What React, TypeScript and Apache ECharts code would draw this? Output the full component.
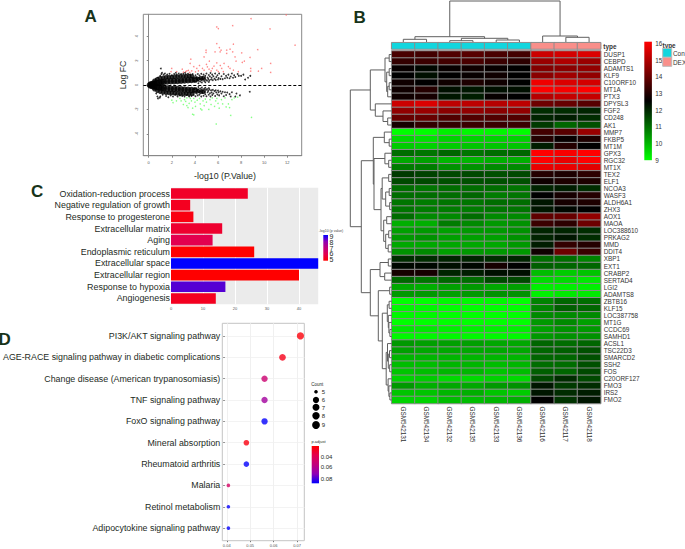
import React, { useEffect, useRef } from "react";
import * as echarts from "echarts";

const FONT = "Liberation Sans";
const INK = "#1d2b1d";

// Panel A: volcano plot: [-log10 P, log FC]
const volcanoUp = [[11.9,5.75],[8.86,5.44],[5.89,4.76],[6.03,4.63],[7.27,4.87],[10.5,4.6],[12.67,3.27],[5.89,3.4],[7.33,3.35],[4.96,2.86],[4.96,2.67],[6.12,3.07],[6.26,2.86],[5.74,2.72],[6.18,2.72],[6.75,2.86],[7.04,2.94],[6.75,2.6],[7.27,2.72],[8.05,2.64],[9.44,2.9],[3.64,2.12],[3.58,1.77],[4.79,2.3],[5.25,1.96],[5.89,1.82],[6.52,1.77],[7.47,2.3],[7.56,1.96],[8.1,1.85],[8.28,1.96],[8.77,2.26],[10.56,1.77],[8.83,1.36],[9.78,1.36],[9.5,1.14],[10.56,1.03],[8.83,1.14],[1.99,1.36],[1.93,1.09],[2.42,1.09],[3.2,1.09],[3.3,1.16],[3.43,1.2],[3.72,1.16],[4.16,1.36],[4.3,1.16],[4.65,1.36],[4.79,1.22],[5.08,1.49],[5.22,1.3],[5.51,1.36],[5.65,1.55],[5.89,1.22],[6.03,1.09],[6.32,1.36],[6.46,1.09],[7.04,1.36],[7.33,1.22],[7.76,1.09],[3.9,1.5],[4.4,1.6],[5.0,1.7],[5.4,1.15],[6.2,1.6],[6.9,1.5],[2.9,1.3],[3.0,1.05],[3.55,1.03],[4.05,1.08]];
const volcanoDown = [[5.85,-3.2],[8.9,-2.65],[7.1,-2.5],[3.9,-2.45],[3.8,-2.4],[2.1,-1.45],[2.0,-1.25],[2.4,-1.3],[2.7,-1.1],[2.8,-1.3],[3.0,-1.6],[3.1,-1.2],[3.2,-1.35],[3.3,-1.05],[3.4,-1.85],[3.5,-1.5],[3.6,-1.1],[3.7,-1.3],[3.8,-1.9],[3.9,-1.1],[4.0,-1.4],[4.05,-1.75],[4.2,-1.25],[4.4,-1.1],[4.45,-1.55],[4.5,-1.95],[4.7,-1.3],[4.8,-1.7],[4.9,-1.15],[5.0,-1.4],[5.2,-2.0],[5.3,-1.2],[5.4,-1.6],[5.5,-1.05],[5.7,-1.75],[5.8,-1.3],[5.9,-1.1],[6.0,-1.5],[6.1,-1.9],[6.3,-1.2],[6.4,-1.55],[6.6,-1.05],[6.7,-1.8],[6.9,-1.55],[7.0,-1.85],[7.2,-1.2],[7.4,-1.05],[7.7,-1.0],[3.3,-1.7],[4.6,-2.05]];
const volcanoCore = [[0.1,0],[0.2,0.05],[0.2,-0.05],[0.35,0.1],[0.35,-0.1],[0.5,0.13],[0.5,-0.13],[0.7,0.17],[0.7,-0.17],[0.9,0.2],[0.9,-0.2],[1.1,0.23],[1.1,-0.23],[1.3,0.26],[1.3,-0.26],[1.6,0.3],[1.6,-0.3],[1.9,0.31],[1.9,-0.31],[2.2,0.32],[2.2,-0.32],[2.5,0.33],[2.5,-0.33],[2.8,0.35],[2.8,-0.35],[3.1,0.37],[3.1,-0.37],[3.4,0.39],[3.4,-0.39],[3.7,0.41],[3.7,-0.41],[4.0,0.44],[4.0,-0.44]];
const volcanoMid = [[0.5,0.35],[0.5,-0.35],[0.75,0.48],[0.75,-0.48],[1.0,0.55],[1.0,-0.55],[1.25,0.6],[1.25,-0.6],[1.5,0.63],[1.5,-0.63],[1.75,0.65],[1.75,-0.65],[2.0,0.66],[2.0,-0.66],[2.25,0.68],[2.25,-0.68],[2.5,0.7],[2.5,-0.7],[2.75,0.72],[2.75,-0.72],[3.0,0.72],[3.0,-0.72],[3.25,0.72],[3.25,-0.72],[3.5,0.74],[3.5,-0.74],[3.75,0.72],[3.75,-0.72],[4.25,0.5],[4.25,-0.5],[4.5,0.55],[4.5,-0.55],[4.75,0.55],[4.75,-0.55]];
const volcanoBlack = [[0.6,0.5],[0.8,0.62],[1.0,0.75],[1.05,1.35],[1.1,0.9],[1.2,-0.8],[1.3,0.85],[1.4,0.95],[1.5,-0.9],[1.6,0.85],[0.75,-0.95],[0.8,-1.1],[0.65,-0.7],[1.0,-0.95],[1.8,0.92],[1.9,-0.85],[2.0,0.8],[2.1,-0.95],[2.2,0.9],[2.3,-0.8],[2.4,0.85],[2.5,-0.95],[2.6,0.95],[2.7,-0.85],[2.8,0.9],[2.9,-0.9],[3.0,0.95],[3.1,-0.95],[3.2,0.88],[3.3,-0.82],[3.4,0.92],[3.5,-0.95],[3.6,0.85],[3.7,-0.9],[3.8,0.9],[3.9,-0.82],[3.95,0.32],[3.95,-0.32],[4.0,0.55],[4.0,-0.55],[4.05,0.8],[4.05,-0.92],[4.1,0.3],[4.1,-0.3],[4.15,0.65],[4.15,-0.7],[4.2,0.45],[4.2,-0.45],[4.25,0.9],[4.25,-0.85],[4.3,0.35],[4.3,-0.35],[4.35,0.6],[4.35,-0.6],[4.4,0.78],[4.4,-0.8],[4.45,0.28],[4.45,-0.3],[4.5,0.5],[4.5,-0.52],[4.55,0.92],[4.55,-0.95],[4.6,0.38],[4.6,-0.36],[4.65,0.68],[4.65,-0.66],[4.7,0.48],[4.7,-0.44],[4.75,0.85],[4.75,-0.88],[4.8,0.33],[4.8,-0.32],[4.85,0.58],[4.85,-0.58],[4.9,0.75],[4.9,-0.76],[4.95,0.42],[4.95,-0.4],[5.0,0.95],[5.0,-0.92],[5.05,0.35],[5.05,-0.34],[5.1,0.62],[5.1,-0.6],[5.15,0.5],[5.15,-0.48],[5.2,0.82],[5.2,-0.8],[5.25,0.38],[5.25,-0.36],[5.3,0.7],[5.3,-0.68],[5.35,0.98],[5.35,-0.95],[5.4,0.45],[5.4,-0.44],[5.45,0.6],[5.45,-0.62],[5.5,0.85],[5.5,-0.82],[5.55,0.4],[5.55,-0.4],[5.6,0.72],[5.6,-0.7],[5.7,0.52],[5.7,-0.5],[5.75,0.95],[5.75,-0.9],[5.8,0.42],[5.8,-0.44],[5.85,0.65],[5.85,-0.62],[5.95,0.8],[5.95,-0.78],[6.0,0.45],[6.0,-0.46],[6.05,0.58],[6.05,-0.6],[6.1,0.95],[6.1,-0.85],[6.2,0.5],[6.2,-0.52],[6.3,0.72],[6.3,-0.7],[6.4,0.48],[6.4,-0.55],[6.5,0.9],[6.5,-0.92],[6.6,0.55],[6.6,-0.6],[6.7,0.75],[6.7,-0.82],[6.8,0.6],[6.8,-0.62],[6.9,0.85],[7.0,0.55],[7.0,-0.75],[7.1,0.7],[7.2,0.95],[7.2,-0.6],[7.3,0.6],[7.4,0.8],[7.5,0.65],[7.6,-0.7],[7.7,0.9],[7.8,0.75],[8.0,0.75],[8.2,0.85],[8.35,0.45],[8.6,0.6],[8.8,0.75],[8.75,-0.55],[7.1,-0.95],[7.5,-0.95],[7.9,-0.85],[4.3,0.15],[4.6,0.2],[4.9,0.22],[5.2,0.25],[4.3,-0.17],[4.6,-0.2],[4.9,-0.22],[5.2,-0.24],[1.15,1.0],[2.35,1.0],[3.15,1.0],[0.95,-1.05],[1.7,-1.0]];

// Panel B: heatmap
const samples = ["GSM542131","GSM542134","GSM542132","GSM542135","GSM542133","GSM542136","GSM542116","GSM542117","GSM542118"];
const genes = ["DUSP1","CEBPD","ADAMTS1","KLF9","C10ORF10","MT1A","PTX3","DPYSL3","FGF2","CD248","AK1","MMP7","FKBP5","MT1M","GPX3","RGC32","MT1X","TEX2","ELF1","NCOA3","WASF3","ALDH6A1","ZHX3","AOX1","MAOA","LOC388610","PRKAG2","MMD","DDIT4","XBP1","EXT1","CRABP2","SERTAD4","LGI2","ADAMTS8","ZBTB16","KLF15","LOC387758","MT1G","CCDC69","SAMHD1","ACSL1","TSC22D3","SMARCD2","SSH2","FOS","C20ORF127","FMO3","IRS2","FMO2"];
const expression = [
[13.5,13.4,13.6,13.7,13.5,13.4,15.3,15.4,15.5],
[13.2,13.3,13.4,13.5,13.3,13.1,14.6,14.9,14.6],
[12.6,12.4,12.6,12.7,12.6,12.5,14.3,14.4,14.5],
[12.5,12.3,12.5,12.6,12.7,12.5,14.4,14.7,14.5],
[12.7,12.5,12.7,12.9,12.7,12.5,15.8,15.5,15.4],
[12.7,13.0,12.3,12.2,12.3,12.3,16,15.9,16],
[12.7,12.8,12.2,12.1,12.6,12.5,15,15.2,15.2],
[15.3,15.5,15.1,15.1,15,15.1,14,13.9,13.7],
[14.5,14.6,14.4,14.5,14.4,14.5,11.9,11.9,12],
[13.9,13.9,13.6,13.6,13.6,13.6,12,12.1,11.9],
[12.8,13.2,13.2,13.3,13.3,13.3,11.7,11.1,11.4],
[9,9,9.2,9.1,9.1,9,13.4,13.7,14.6],
[9.5,9.4,9.6,9.6,9.6,9.6,13,12.6,12.9],
[9.7,9.6,9.7,9.8,9.8,9.8,12.1,13,12.5],
[11,10.9,11.1,10.9,11,11.1,16,15.9,16],
[10.2,10.3,10,10,10.1,10.1,16,15.7,16],
[10.8,10.8,10.5,10.5,10.6,10.6,15.7,15.7,15.6],
[11.7,11.6,11.5,11.5,11.4,11.5,13,12.9,13.1],
[11.5,11.5,11.4,11.4,11.4,11.4,12.7,12.9,12.9],
[11,10.9,11,11,11,10.9,12,12.1,11.9],
[11,11,11,11.1,10.8,10.9,12.5,12.8,13],
[10.9,10.8,10.9,10.9,11,11,12.2,12.8,12.9],
[10.9,10.8,10.8,10.8,10.9,10.9,12.2,12.4,12.5],
[11,10.6,10.6,11,10.6,10.6,13.8,13.9,14.5],
[10.1,10.1,10.8,10.6,10.4,10.5,13.3,13.1,14],
[10.3,10.4,10.3,10.4,10.4,10.5,12,12,11.9],
[10.4,10.5,10.3,10.3,10.3,10.5,12,12.2,11.9],
[10.2,10.2,10.2,10.2,10.2,10.4,12.1,13.2,13],
[10.5,10.6,10.3,10.4,10.4,10.4,12.7,14,13.3],
[11.9,11.9,12,12,11.9,12,11,11,10.7],
[12.4,12.4,12.3,12.4,12.8,12.5,11.2,11.1,11.1],
[12.8,12.8,12,12.1,12.3,12.3,9.9,9.7,9.8],
[11.1,10.9,11.1,11,11.5,11.5,9.5,9.5,9.3],
[10.2,10.1,10.3,10.4,10.2,10.3,9.2,9.2,9.2],
[10.4,10.4,10.3,10.4,10.5,10.5,9.2,9.3,9.3],
[9,9,9.1,9.1,9.1,9,10.7,11.1,11],
[9.1,9.1,9,9,9,9,10.7,11.2,11.1],
[9.1,9.1,9,9,9,9,10.6,10.6,10.6],
[9,9,9,9,9,9,10.4,10.6,10.3],
[9.3,9.3,9.2,9.2,9.2,9.2,10.3,10.5,10.4],
[9.1,9.1,9.1,9.1,9.1,9.1,10.4,10.5,10.5],
[10.4,10.3,10.3,10.3,10.2,10.2,11.1,11,11.1],
[10.3,10.2,10.2,10.2,10.2,10.2,11.1,11.2,11.4],
[10,10,10,10,10,10,11.1,11.1,11.4],
[9.9,9.9,10,10,9.9,10,11,11,11.4],
[9.8,9.9,10,10,9.8,9.9,11.2,11.1,11.5],
[9.6,9.7,9.5,9.5,9.6,9.5,11.5,11.9,11.5],
[10.4,10.1,10.2,10.2,10.4,10.5,12.2,11.7,11.9],
[9.8,9.8,10,10.1,9.8,9.7,12.2,11.9,12.1],
[9.6,9.6,9.9,9.9,10,10.1,12.5,11.8,12.2],
];
const sampleTypes = [0,0,0,0,0,0,1,1,1];
const typeNames = ["Con","DEX"];
const typeColors = ["#12d6de","#f98f8a"];
const heatTicks = [16,15,14,13,12,11,10,9];

// Dendrograms: [merge height, left, right]; a number is a leaf index
const columnTree = [41, [5.3, [2.7, 0, 1], [3.7, [1.3, 2, 3], [2, 4, 5]]], [6, 6, [4.7, 7, 8]]];
const rowTree = [41.4,
  [21.4,
    [6.7, [2.5, 0, 1], [5, [2.5, 2, 3], [4, [2.5, 4, 5], 6]]],
    [16.4, 7, [8.7, 8, [4, 9, 10]]]],
  [30.4,
    [18.4,
      [7.4, 11, [2.5, 12, 13]],
      [17.7,
        [6.8, 14, [3, 15, 16]],
        [10.7,
          [9.5, [3, 17, 18], [6, [2.5, 19, 20], [2, 21, 22]]],
          [8, [5, 23, 24], [6, [3, 25, 26], [3.5, 27, 28]]]]]],
    [21.4,
      [11.7, [3.4, 29, 30], [7, 31, 32]],
      [13.4,
        [2, 33, 34],
        [9.4,
          [4.4, [2.6, 35, 36], [3.4, 37, [2.8, 38, [1.8, 39, 40]]]],
          [5.5, [4.2, 41, [3.4, [2.2, 42, 43], [2, 44, 45]]], [3.6, 46, [2.8, 47, [1.8, 48, 49]]]]]]]],
];

// Panel C: GO bars
const goTerms = ["Oxidation-reduction process","Negative regulation of growth","Response to progesterone","Extracellular matrix","Aging","Endoplasmic reticulum","Extracellular space","Extracellular region","Response to hypoxia","Angiogenesis"];
const goCounts = [24,6,7,16,13,26,46,40,17,14];
const goLogP = [5.5,5.4,5.2,5.6,6,5,9,5,8.4,5.4];
const goLegendTicks = [9,8,7,6,5];

// Panel D: KEGG dots
const keggTerms = ["PI3K/AKT signaling pathway","AGE-RACE signaling pathway in diabetic complications","Change disease (American trypanosomiasis)","TNF signaling pathway","FoxO signaling pathway","Mineral absorption","Rheumatoid arthritis","Malaria","Retinol metabolism","Adipocytokine signaling pathway"];
const keggRatio = [0.0714,0.0635,0.0556,0.0556,0.0556,0.0476,0.0476,0.0397,0.0397,0.0397];
const keggCount = [9,8,7,7,7,6,6,5,5,5];
const keggAdjust = [0.027,0.03,0.052,0.066,0.088,0.028,0.088,0.048,0.088,0.088];
const countLegend = [5,6,7,8,9];
const countSizes = { 5: 3.6, 6: 5.6, 7: 6.4, 8: 6.8, 9: 7.2 };
const adjustTicks = [0.04,0.06,0.08];

const RB = ["#0000ff","#8e00b6","#c1007c","#e3004f","#ff0000"];

type Tree = number | [number, Tree, Tree];
function treeSegments(node: Tree, out: number[][]): { p: number; h: number } {
  if (typeof node === "number") return { p: node + 0.5, h: 0 };
  const a = treeSegments(node[1], out);
  const b = treeSegments(node[2], out);
  out.push([a.p, a.h, a.p, node[0]], [b.p, b.h, b.p, node[0]], [a.p, node[0], b.p, node[0]]);
  return { p: (a.p + b.p) / 2, h: node[0] };
}
const columnSegments: number[][] = [];
treeSegments(columnTree as Tree, columnSegments);
const rowSegments: number[][] = [];
treeSegments(rowTree as Tree, rowSegments);
const rowSegmentsXY = rowSegments.map((s) => [s[1], s[0], s[3], s[2]]);

const renderSegment = (_: any, api: any) => {
  const a = api.coord([api.value(0), api.value(1)]);
  const b = api.coord([api.value(2), api.value(3)]);
  return { type: "line", shape: { x1: a[0], y1: a[1], x2: b[0], y2: b[1] }, style: { stroke: "#5f5f5f", lineWidth: 1, fill: null } };
};

const hiddenValue = (gridIndex: number, min: number, max: number, inverse = false) => ({
  type: "value", gridIndex, min, max, inverse, show: false, splitLine: { show: false },
});

const txt = (text: string, x: number, y: number, fontSize: number, extra: any = {}) => ({
  type: "text", x, y, silent: true,
  style: { text, fontSize, fontFamily: FONT, fill: INK, verticalAlign: "middle", ...extra },
});
const vGradient = (stops: string[]) => ({
  type: "linear", x: 0, y: 0, x2: 0, y2: 1,
  colorStops: stops.map((color, i) => ({ offset: i / (stops.length - 1), color })),
});

function buildOption() {
  const H = { left: 391.7, top: 51, width: 209, height: 352.5 };
  const tickLab = { fontSize: 4, color: "#555", fontFamily: FONT };

  const grid = [
    { left: 143.3, top: 14.3, width: 158.4, height: 141.4, show: true, borderColor: "#888", borderWidth: 1, backgroundColor: "#fff" },
    { left: H.left, top: 0, width: H.width, height: 42 },
    { left: H.left, top: 42.7, width: H.width, height: 6.3 },
    H,
    { left: 349, top: H.top, width: 42.7, height: H.height },
    { left: 171, top: 187.7, width: 147.2, height: 116.6, show: true, backgroundColor: "#ebebeb", borderWidth: 0 },
    { left: 222.3, top: 323.3, width: 82, height: 217.4, show: true, backgroundColor: "#fff", borderColor: "#c4c4c4", borderWidth: 1 },
    { left: 222.3, top: 325.3, width: 82, height: 213.5 },
  ];

  const xAxis: any[] = [
    { type: "value", gridIndex: 0, min: -0.47, max: 13.25, splitLine: { show: false },
      axisLine: { onZero: false, lineStyle: { color: "#888" } },
      axisTick: { length: 2, lineStyle: { color: "#888" }, customValues: [0,2,4,6,8,10,12] },
      axisLabel: { ...tickLab, margin: 5, customValues: [0,2,4,6,8,10,12] } },
    hiddenValue(1, 0, 9),
    { type: "category", gridIndex: 2, data: samples, show: false },
    { type: "category", gridIndex: 3, data: samples, axisLine: { show: false }, axisTick: { show: false },
      axisLabel: { interval: 0, rotate: -90, fontSize: 6.4, margin: 3, color: "#333", fontFamily: FONT } },
    hiddenValue(4, 0, 42.7, true),
    { type: "value", gridIndex: 5, min: 0, max: 46,
      splitLine: { show: true, lineStyle: { color: "#fff", width: 1 } },
      axisLine: { show: false },
      axisTick: { length: 1.5, lineStyle: { color: "#777" }, customValues: [0,10,20,30,40] },
      axisLabel: { ...tickLab, margin: 2, customValues: [0,10,20,30,40] } },
    { type: "value", gridIndex: 6, min: 0.0381, max: 0.0731,
      splitLine: { show: true, lineStyle: { color: "#f0f0f0", width: 1 } },
      axisLine: { show: false },
      axisTick: { length: 1.5, lineStyle: { color: "#777" }, customValues: [0.04,0.05,0.06,0.07] },
      axisLabel: { ...tickLab, margin: 3, customValues: [0.04,0.05,0.06,0.07], formatter: (v: number) => v.toFixed(2) } },
    hiddenValue(7, 0.0381, 0.0731),
  ];

  const yAxis: any[] = [
    { type: "value", gridIndex: 0, min: -5.8, max: 5.8, splitLine: { show: false },
      axisLine: { lineStyle: { color: "#888" } },
      axisTick: { length: 2, lineStyle: { color: "#888" }, customValues: [-4,-2,0,2,4] },
      axisLabel: { ...tickLab, margin: 5, rotate: 90, customValues: [-4,-2,0,2,4] } },
    hiddenValue(1, 0, 42),
    { type: "category", gridIndex: 2, data: ["type"], show: false },
    { type: "category", gridIndex: 3, data: genes, inverse: true, position: "right",
      axisLine: { show: false }, axisTick: { show: false },
      axisLabel: { interval: 0, fontSize: 6.4, margin: 3, color: "#333", fontFamily: FONT } },
    hiddenValue(4, 0, 50, true),
    { type: "category", gridIndex: 5, data: goTerms, inverse: true, axisLine: { show: false }, axisTick: { show: false },
      axisLabel: { interval: 0, fontSize: 8.9, margin: 1, color: INK, fontFamily: FONT } },
    hiddenValue(6, 0, 1),
    { type: "category", gridIndex: 7, data: keggTerms, inverse: true, axisLine: { show: false },
      axisTick: { show: true, alignWithLabel: true, length: 1.5, lineStyle: { color: "#777" } },
      splitLine: { show: true, alignWithLabel: true, lineStyle: { color: "#f3f3f3", width: 1 } },
      axisLabel: { interval: 0, fontSize: 8.85, margin: 4.5, color: INK, fontFamily: FONT } },
  ];

  const heatData: number[][] = [];
  expression.forEach((row, r) => row.forEach((v, c) => heatData.push([c, r, v])));

  const series: any[] = [
    { type: "scatter", xAxisIndex: 0, yAxisIndex: 0, data: volcanoCore, symbolSize: 6.5, itemStyle: { color: "#000" }, silent: true },
    { type: "scatter", xAxisIndex: 0, yAxisIndex: 0, data: volcanoMid, symbolSize: 4.5, itemStyle: { color: "#000" }, silent: true },
    { type: "scatter", xAxisIndex: 0, yAxisIndex: 0, data: volcanoBlack, symbolSize: 1.8, itemStyle: { color: "#000" }, silent: true },
    { type: "scatter", xAxisIndex: 0, yAxisIndex: 0, data: volcanoUp, symbolSize: 1.5, itemStyle: { color: "#ff6a6a" }, silent: true,
      markLine: { silent: true, symbol: "none", label: { show: false }, animation: false,
        lineStyle: { color: "#000", type: [3, 2], width: 1 }, data: [{ yAxis: 0 }] } },
    { type: "scatter", xAxisIndex: 0, yAxisIndex: 0, data: volcanoDown, symbolSize: 1.5, itemStyle: { color: "#66ff66" }, silent: true },
    { type: "custom", xAxisIndex: 1, yAxisIndex: 1, data: columnSegments, renderItem: renderSegment, silent: true, clip: false,
      encode: { x: [0, 2], y: [1, 3] } },
    { id: "annot", type: "heatmap", xAxisIndex: 2, yAxisIndex: 2, silent: true,
      data: sampleTypes.map((t, i) => [i, 0, t]), itemStyle: { borderColor: "#8c8c8c", borderWidth: 1 } },
    { id: "heat", type: "heatmap", xAxisIndex: 3, yAxisIndex: 3, data: heatData, silent: true,
      itemStyle: { borderColor: "#8c8c8c", borderWidth: 1 } },
    { type: "custom", xAxisIndex: 4, yAxisIndex: 4, data: rowSegmentsXY, renderItem: renderSegment, silent: true, clip: false,
      encode: { x: [0, 2], y: [1, 3] } },
    { id: "go", type: "bar", xAxisIndex: 5, yAxisIndex: 5, barCategoryGap: "9%", silent: true,
      data: goCounts.map((v, i) => [v, goTerms[i], goLogP[i]]), encode: { x: 0, y: 1 } },
    { id: "kegg", type: "scatter", xAxisIndex: 7, yAxisIndex: 7, silent: true,
      data: keggRatio.map((v, i) => [v, keggTerms[i], keggAdjust[i], keggCount[i]]),
      encode: { x: 0, y: 1 },
      symbolSize: (d: any[]) => (countSizes as any)[d[3]] },
  ];
  const idx = (id: string) => series.findIndex((s) => s.id === id);

  const visualMap = [
    { show: false, type: "continuous", seriesIndex: idx("annot"), dimension: 2, min: 0, max: 1, inRange: { color: typeColors } },
    { show: false, type: "continuous", seriesIndex: idx("heat"), dimension: 2, min: 9, max: 16, inRange: { color: ["#00ff00", "#000000", "#ff0000"] } },
    { show: false, type: "continuous", seriesIndex: idx("go"), dimension: 2, min: 5, max: 9, inRange: { color: [...RB].reverse() } },
    { show: false, type: "continuous", seriesIndex: idx("kegg"), dimension: 2, min: 0.025, max: 0.0885, inRange: { color: [...RB].reverse() } },
  ];

  const letter = { fontWeight: "bold", fill: "#17331a" };
  const graphic: any[] = [
    txt("A", 84.5, 16.5, 17, letter),
    txt("B", 353.5, 17, 17, letter),
    txt("C", 31, 191, 17, letter),
    txt("D", -1.5, 339, 17, letter),
    txt("-log10 (P.Value)", 225, 176, 8.8, { align: "center" }),
    { type: "text", x: 123, y: 75, rotation: Math.PI / 2, silent: true,
      style: { text: "Log FC", fontSize: 8.7, fontFamily: FONT, fill: INK, align: "center", verticalAlign: "middle" } },
    // heatmap legends
    txt("type", 603.3, 46, 6.4, { fontWeight: "bold", fill: "#333" }),
    { type: "rect", silent: true, shape: { x: 644.3, y: 41.7, width: 7.6, height: 118.5 },
      style: { fill: vGradient(["#ff0000", "#000000", "#00ff00"]) } },
    ...heatTicks.map((t, i) => txt(String(t), 655.2, 43.3 + i * 16.7, 6.4, { fill: "#333" })),
    txt("type", 662.5, 45, 6.4, { fontWeight: "bold", fill: "#333" }),
    ...typeNames.map((n, i) => ({ type: "rect", silent: true, shape: { x: 662.7, y: 48.3 + i * 9, width: 9, height: 9 },
      style: { fill: typeColors[i], stroke: "#bbb", lineWidth: 1 } })),
    ...typeNames.map((n, i) => txt(n, 673, 53 + i * 9, 6.4, { fill: "#333" })),
    // GO legend
    txt("-log10 (p value)", 331, 230.5, 3.5, { align: "center", fill: "#444" }),
    { type: "rect", silent: true, shape: { x: 323.3, y: 235, width: 4.7, height: 25.7 }, style: { fill: vGradient(RB) } },
    ...goLegendTicks.map((t, i) => txt(String(t), 329.5, 236.8 + i * 5.6, 7)),
    // KEGG legends
    txt("Count", 311.3, 384, 4.5),
    ...countLegend.map((c, i) => ({ type: "circle", silent: true,
      shape: { cx: 316, cy: [391.7, 400, 407.3, 415.7, 425][i], r: (countSizes as any)[c] / 2 + (i ? 0.3 : 0) }, style: { fill: "#000" } })),
    ...countLegend.map((c, i) => txt(String(c), 321.7, [391.7, 400.3, 407.7, 416, 425.3][i], 6)),
    txt("p.adjust", 311.5, 441.7, 4),
    { type: "rect", silent: true, shape: { x: 311.7, y: 446, width: 7.3, height: 37.3 }, style: { fill: vGradient([...RB].reverse()) } },
    ...adjustTicks.map((t, i) => txt(t.toFixed(2), 320.7, [456.7, 467.3, 478.7][i], 6)),
  ];

  return { animation: false, textStyle: { fontFamily: FONT }, backgroundColor: "#fff", grid, xAxis, yAxis, series, visualMap, graphic };
}

export default function App() {
  const ref = useRef<HTMLDivElement>(null);
  useEffect(() => {
    const chart = echarts.init(ref.current!, undefined, { renderer: "svg" });
    chart.setOption(buildOption() as any);
    return () => chart.dispose();
  }, []);
  return <div ref={ref} style={{ position: "fixed", left: 0, top: 0, width: 685, height: 549 }} />;
}
